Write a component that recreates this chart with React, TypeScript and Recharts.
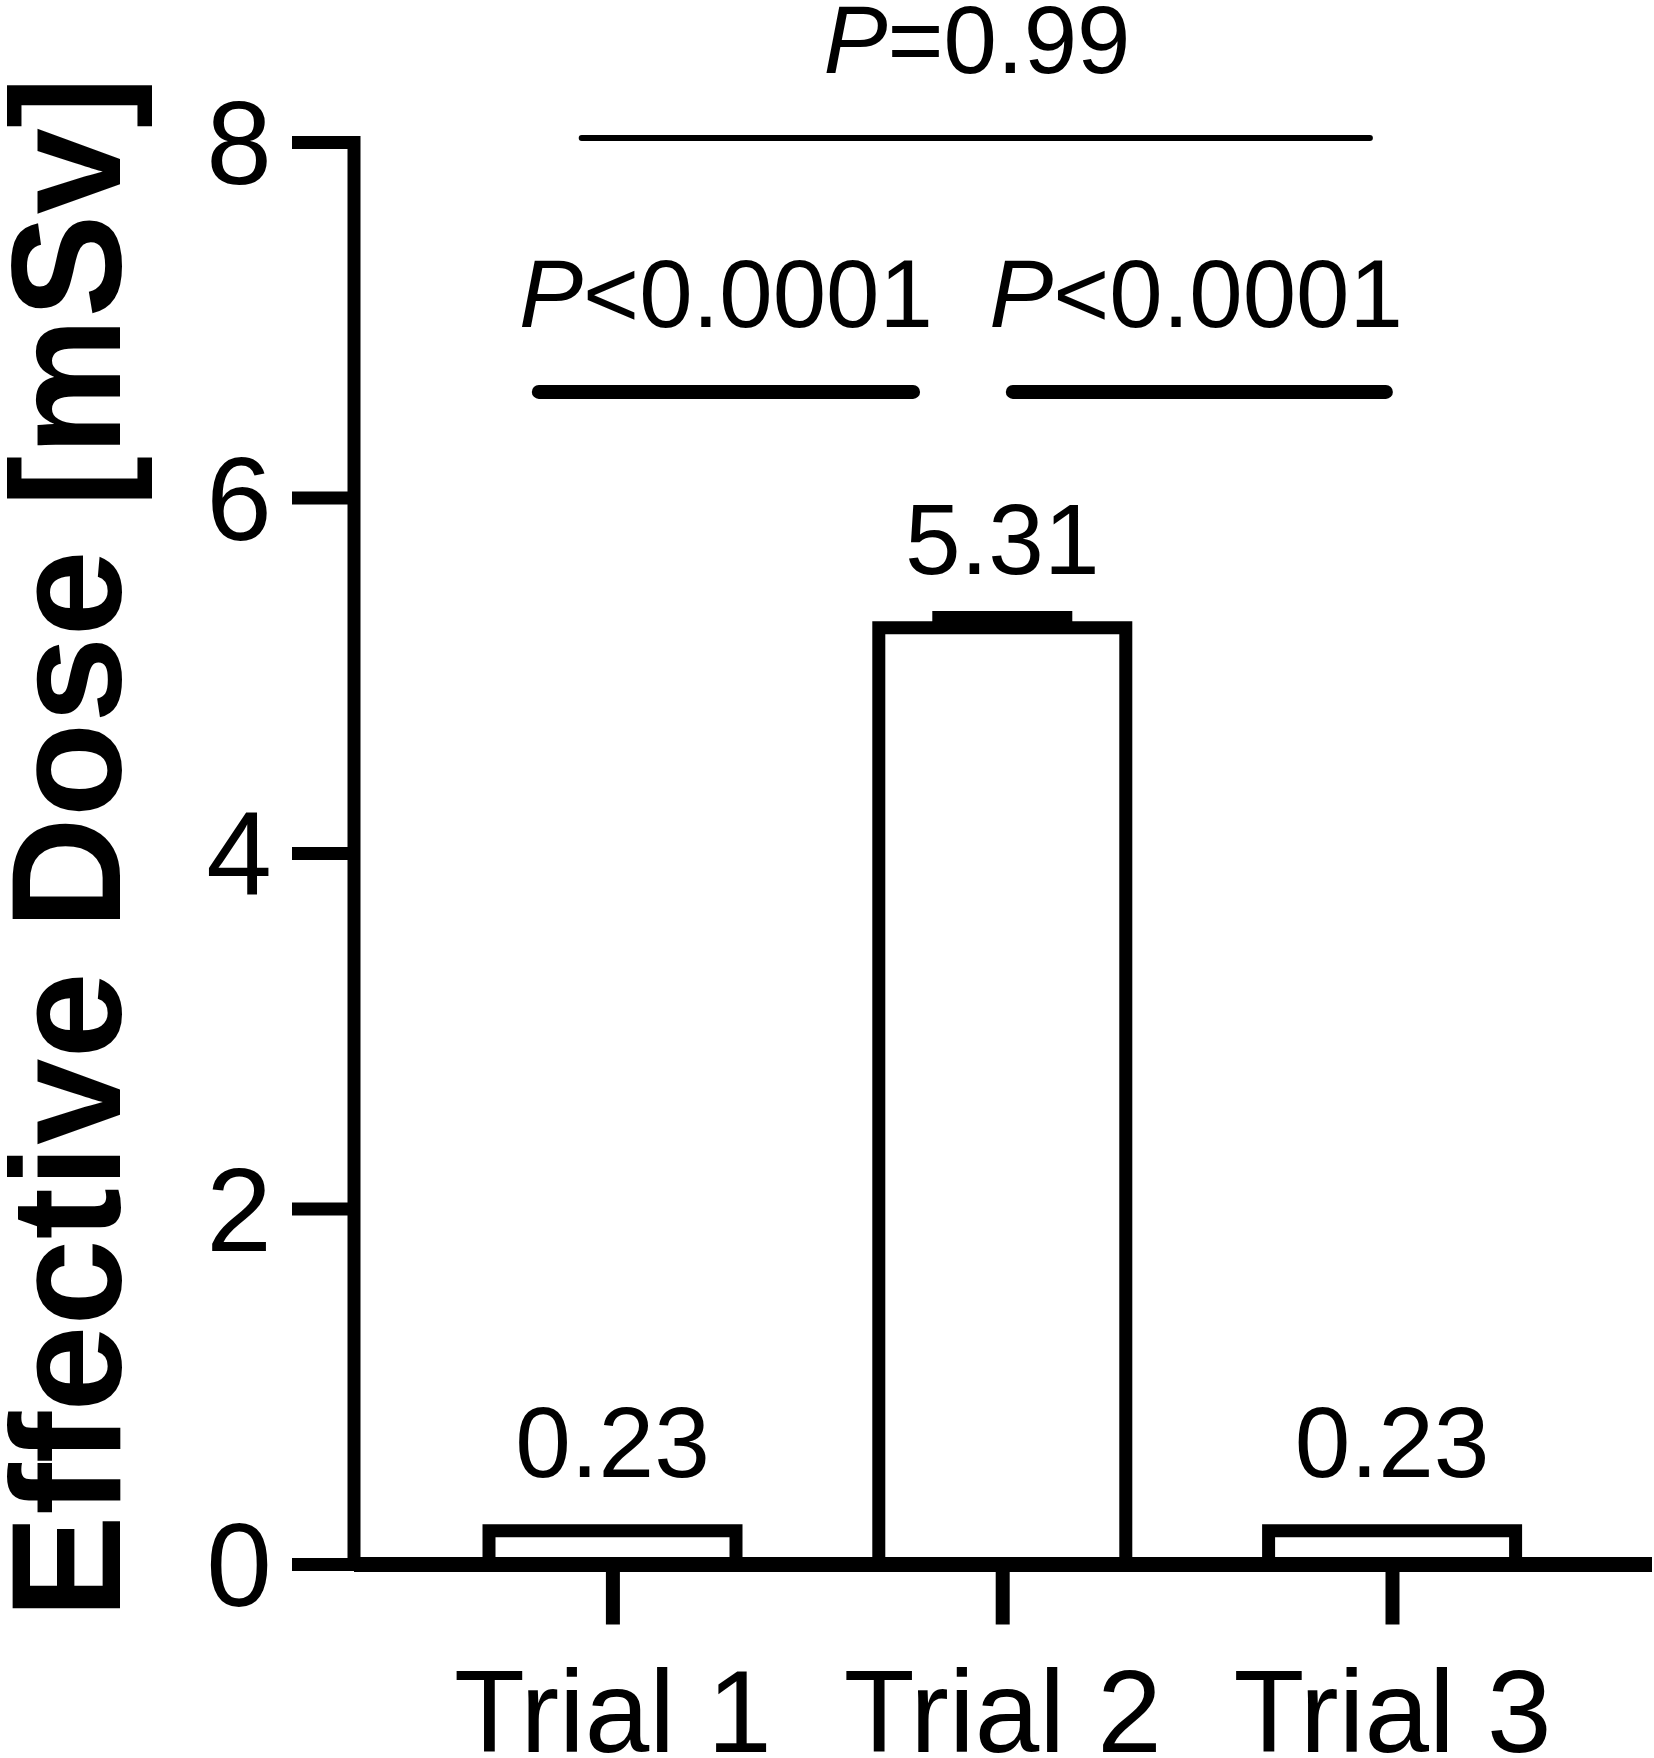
import { BarChart, Bar, XAxis, YAxis, ErrorBar, LabelList, ReferenceLine, ReferenceDot } from 'recharts';

const trials = ['Trial 1', 'Trial 2', 'Trial 3'];
const doses = [0.19, 5.27, 0.19];
const doseErrors: ([number, number] | null)[] = [null, [0, 0.06], null];
const valueLabels = ['0.23', '5.31', '0.23'];
const yTicks = [0, 2, 4, 6, 8];

// comparison bars, x in trial units (0 = Trial 1 ... 2 = Trial 3), y in mSv
const compFrom = [-0.08, -0.19, 1.026];
const compTo = [1.942, 0.77, 1.983];
const compY = [8.025, 6.597, 6.597];
const compWidth = [6, 14, 14];
const compOp = ['=0.99', '<0.0001', '<0.0001'];
const compTextX = [0.934, 0.29, 1.496];
const compTextY = [8.39, 6.962, 6.962];

const FONT = '"Liberation Sans", Arial, Helvetica, sans-serif';

const data = trials.map((t, i) => ({
  trial: t,
  dose: doses[i],
  err: doseErrors[i],
  label: valueLabels[i],
}));

function ValueLabel(props: any) {
  const { x, y, width, value } = props;
  return (
    <text x={x + width / 2} y={y - 54} textAnchor="middle" fontSize={100} fontFamily={FONT} fill="#000">
      {value}
    </text>
  );
}

function YLabel(props: any) {
  const vb = props.viewBox ?? { x: 0, y: 142.5, width: 354, height: 1422 };
  const cx = vb.x + 120;
  const cy = vb.y + vb.height / 2 - 6;
  return (
    <text
      x={cx}
      y={cy}
      transform={`rotate(-90, ${cx}, ${cy})`}
      textAnchor="middle"
      fontSize={155}
      fontWeight="bold"
      fontFamily={FONT}
      fill="#000"
    >
      Effective Dose [mSv]
    </text>
  );
}

export default function App() {
  return (
    <div style={{ position: 'absolute', left: 0, top: 0, background: '#fff' }}>
      <BarChart
        width={1654}
        height={1758}
        data={data}
        margin={{ top: 142.5, right: 2, bottom: 0, left: 0 }}
      >
        <XAxis
          dataKey="trial"
          height={193.5}
          padding={{ left: 64, right: 64.6 }}
          axisLine={{ stroke: '#000', strokeWidth: 15 }}
          tickLine={{ stroke: '#000', strokeWidth: 14 }}
          tickSize={60}
          tickMargin={45}
          tick={{ fill: '#000', fontSize: 116, fontFamily: FONT }}
        />
        <XAxis
          xAxisId="pos"
          type="number"
          domain={[0, 2]}
          padding={{ left: 258.9, right: 259.5 }}
          allowDataOverflow
          hide
        />
        <YAxis
          width={354}
          domain={[0, 8]}
          ticks={yTicks}
          allowDataOverflow
          axisLine={{ stroke: '#000', strokeWidth: 13, strokeLinecap: 'square' }}
          tickLine={{ stroke: '#000', strokeWidth: 13 }}
          tickSize={62}
          tickMargin={20}
          tick={{ fill: '#000', fontSize: 118, fontFamily: FONT }}
          label={<YLabel />}
        />
        <Bar
          dataKey="dose"
          fill="#fff"
          stroke="#000"
          strokeWidth={13}
          barSize={247}
          isAnimationActive={false}
        >
          <ErrorBar dataKey="err" direction="y" width={70} strokeWidth={12} stroke="#000" />
          <LabelList dataKey="label" content={<ValueLabel />} />
        </Bar>
        {compY.map((y, i) => (
          <ReferenceLine
            key={`l${i}`}
            xAxisId="pos"
            segment={[
              { x: compFrom[i], y },
              { x: compTo[i], y },
            ]}
            stroke="#000"
            strokeWidth={compWidth[i]}
            strokeLinecap="round"
            ifOverflow="visible"
          />
        ))}
        {compOp.map((op, i) => (
          <ReferenceDot
            key={`t${i}`}
            xAxisId="pos"
            x={compTextX[i]}
            y={compTextY[i]}
            ifOverflow="visible"
            shape={(p: any) => (
              <text x={p.cx} y={p.cy} textAnchor="middle" fontSize={96} fontFamily={FONT} fill="#000">
                <tspan fontStyle="italic">P</tspan>
                <tspan>{op}</tspan>
              </text>
            )}
          />
        ))}
      </BarChart>
    </div>
  );
}
